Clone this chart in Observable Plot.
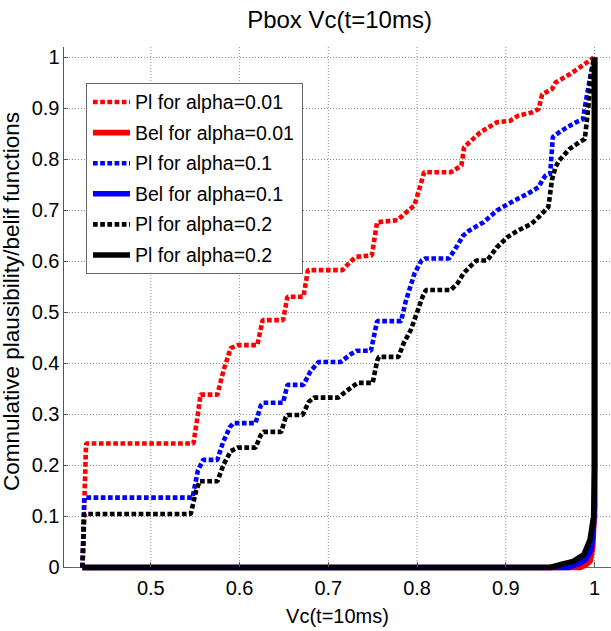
<!DOCTYPE html>
<html>
<head>
<meta charset="utf-8">
<script src="https://cdn.jsdelivr.net/npm/d3@7"></script>
<script src="https://cdn.jsdelivr.net/npm/@observablehq/plot@0.6"></script>
<style>
  body { margin: 0; background: #fff; }
  #chart svg { font-family: "Liberation Sans", Arial, sans-serif; display: block; }
</style>
</head>
<body>
<div id="chart"></div>
<script>
// ---------- data ----------
const titleText = "Pbox Vc(t=10ms)";
const xLabelText = "Vc(t=10ms)";
const yLabelText = "Comnulative plausibility/belif functions";
const xTicks = [0.5, 0.6, 0.7, 0.8, 0.9, 1];
const xTickLabels = ["0.5", "0.6", "0.7", "0.8", "0.9", "1"];
const yTicks = [0, 0.1, 0.2, 0.3, 0.4, 0.5, 0.6, 0.7, 0.8, 0.9, 1];
const yTickLabels = ["0", "0.1", "0.2", "0.3", "0.4", "0.5", "0.6", "0.7", "0.8", "0.9", "1"];
const xDomain = [0.4016, 1.0191];
const yDomain = [0, 1.0196];

const legendLabels = [
  "Pl for alpha=0.01", "Bel for alpha=0.01",
  "Pl for alpha=0.1", "Bel for alpha=0.1",
  "Pl for alpha=0.2", "Pl for alpha=0.2"
];

// Plausibility (dotted) curves
const plAlpha001 = [
  [0.423,0],[0.427,0.243],[0.548,0.243],[0.553,0.300],[0.556,0.339],[0.575,0.339],
  [0.582,0.387],[0.590,0.430],[0.598,0.436],[0.620,0.436],[0.626,0.485],[0.649,0.485],
  [0.654,0.531],[0.672,0.531],[0.677,0.583],[0.716,0.583],[0.725,0.600],[0.731,0.609],
  [0.749,0.612],[0.755,0.677],[0.778,0.681],[0.790,0.700],[0.797,0.710],[0.803,0.745],
  [0.808,0.775],[0.838,0.775],[0.850,0.788],[0.853,0.824],[0.871,0.853],[0.890,0.873],
  [0.905,0.876],[0.914,0.886],[0.929,0.892],[0.937,0.899],[0.941,0.928],[0.952,0.938],
  [0.956,0.951],[0.972,0.967],[0.983,0.980],[0.999,1.0]
];
const plAlpha01 = [
  [0.423,0],[0.425,0.137],[0.547,0.137],[0.553,0.190],[0.559,0.211],[0.575,0.211],
  [0.581,0.244],[0.589,0.275],[0.593,0.283],[0.618,0.283],[0.624,0.318],[0.627,0.323],
  [0.649,0.323],[0.654,0.358],[0.672,0.358],[0.680,0.385],[0.689,0.403],[0.714,0.403],
  [0.725,0.418],[0.732,0.425],[0.748,0.425],[0.755,0.483],[0.782,0.483],[0.787,0.520],
  [0.790,0.537],[0.797,0.576],[0.805,0.602],[0.809,0.606],[0.836,0.606],[0.845,0.630],
  [0.852,0.651],[0.859,0.661],[0.875,0.677],[0.890,0.700],[0.910,0.720],[0.925,0.733],
  [0.937,0.746],[0.941,0.759],[0.945,0.769],[0.950,0.772],[0.953,0.844],[0.960,0.853],
  [0.968,0.862],[0.979,0.873],[0.987,0.879],[0.991,0.922],[0.995,0.961],[0.999,0.993]
];
const plAlpha02 = [
  [0.423,0],[0.425,0.105],[0.545,0.105],[0.551,0.150],[0.555,0.169],[0.575,0.169],
  [0.582,0.202],[0.590,0.228],[0.598,0.235],[0.618,0.235],[0.624,0.260],[0.627,0.266],
  [0.647,0.266],[0.652,0.295],[0.654,0.299],[0.671,0.299],[0.678,0.325],[0.684,0.333],
  [0.711,0.333],[0.725,0.352],[0.733,0.362],[0.750,0.362],[0.755,0.405],[0.757,0.413],
  [0.779,0.413],[0.785,0.440],[0.793,0.466],[0.800,0.500],[0.806,0.530],[0.810,0.544],
  [0.838,0.544],[0.846,0.558],[0.852,0.576],[0.859,0.589],[0.867,0.602],[0.879,0.602],
  [0.890,0.628],[0.902,0.648],[0.914,0.661],[0.929,0.674],[0.937,0.687],[0.948,0.707],
  [0.952,0.760],[0.956,0.785],[0.960,0.798],[0.972,0.821],[0.983,0.834],[0.989,0.840],
  [0.993,0.902],[0.996,0.967],[0.999,0.997]
];
// Belief (solid) curves
const belAlpha001 = [
  [0.423,0],[0.984,0],[0.990,0.005],[0.995,0.012],[0.998,0.040],[0.999,0.080],[1.0,0.10],[1.0,1.0]
];
const belAlpha01 = [
  [0.423,0],[0.970,0],[0.980,0.006],[0.990,0.015],[0.996,0.035],[0.998,0.060],[0.999,0.090],[1.0,0.12],[1.0,1.0]
];
const belAlpha02 = [
  [0.423,0],[0.950,0],[0.962,0.006],[0.976,0.012],[0.988,0.025],[0.995,0.055],[0.999,0.10],[1.0,0.2],[1.0,1.0]
];

const seriesColors = ["#ff0000", "#ff0000", "#0000ff", "#0000ff", "#000000", "#000000"];
const seriesDashed = [true, false, true, false, true, false];
const seriesData = [plAlpha001, belAlpha001, plAlpha01, belAlpha01, plAlpha02, belAlpha02];

// ---------- styles ----------
const DASH = "4.7,2.5";
const DASH_W = 4.6;
const SOLID_W = 5.6;
const FONT = '"Liberation Sans", Arial, sans-serif';

const lineMarks = seriesData.map((data, i) =>
  Plot.line(data.map(([x, y]) => ({x, y})), {
    x: "x", y: "y",
    stroke: seriesColors[i],
    strokeWidth: seriesDashed[i] ? DASH_W : SOLID_W,
    strokeDasharray: seriesDashed[i] ? DASH : null,
    strokeLinecap: "butt",
    strokeLinejoin: "miter",
    curve: "linear"
  })
);

const gridStyle = {stroke: "#8c8c8c", strokeOpacity: 1, strokeWidth: 1, strokeDasharray: "1,2"};

const chart = Plot.plot({
  width: 611,
  height: 631,
  marginLeft: 63,
  marginRight: 0,
  marginTop: 47,
  marginBottom: 64,
  style: {fontFamily: FONT, fontSize: "20px", background: "#fff", color: "#000", overflow: "visible"},
  x: {domain: xDomain},
  y: {domain: yDomain},
  marks: [
    Plot.gridX(xTicks, gridStyle),
    Plot.gridY(yTicks.filter(d => d > 0), gridStyle),
    Plot.axisX(xTicks, {tickSize: 0, tickPadding: 13, label: null, fontSize: 20,
      tickFormat: (d) => xTickLabels[xTicks.indexOf(d)]}),
    Plot.axisY(yTicks, {tickSize: 0, tickPadding: 4, label: null, fontSize: 20,
      tickFormat: (d) => yTickLabels[yTicks.indexOf(d)]}),
    Plot.ruleY([yDomain[0]], {stroke: "#666", strokeWidth: 1}),
    Plot.ruleX([xDomain[0]], {stroke: "#555", strokeWidth: 1}),
    ...lineMarks,
    Plot.text([titleText], {frameAnchor: "top", textAnchor: "middle", lineAnchor: "bottom", dy: -20, dx: 2, fontSize: 24}),
    Plot.text([xLabelText], {frameAnchor: "bottom", textAnchor: "middle", lineAnchor: "bottom", dy: 55, fontSize: 20}),
    Plot.text([yLabelText], {frameAnchor: "left", textAnchor: "middle", lineAnchor: "middle", rotate: -90, dx: -51.5, dy: -6, fontSize: 22.5})
  ]
});

document.getElementById("chart").appendChild(chart);

// ---------- inward tick marks & legend (layout) ----------
const svg = d3.select(chart);
const sx = chart.scale("x"), sy = chart.scale("y");
const x0 = sx.apply(xDomain[0]), y0 = sy.apply(yDomain[0]);
const ticksG = svg.append("g").attr("stroke", "#555").attr("stroke-width", 1);
yTicks.forEach(t => {
  const yy = Math.round(sy.apply(t)) + 0.5;
  ticksG.append("line").attr("x1", x0).attr("x2", x0 + 5).attr("y1", yy).attr("y2", yy);
});
xTicks.forEach(t => {
  const xx = Math.round(sx.apply(t)) + 0.5;
  ticksG.append("line").attr("x1", xx).attr("x2", xx).attr("y1", y0).attr("y2", y0 - 5);
});

const lg = svg.append("g").attr("class", "legend");
const LX = 86, LY = 83, LW = 216, LH = 190;
lg.append("rect").attr("x", LX + 0.5).attr("y", LY + 0.5).attr("width", LW).attr("height", LH)
  .attr("fill", "#fff").attr("stroke", "#666").attr("stroke-width", 1);
const rowY0 = 102, rowStep = 30.6;
legendLabels.forEach((lab, i) => {
  const yy = rowY0 + i * rowStep;
  lg.append("line")
    .attr("x1", 93).attr("x2", 130).attr("y1", yy).attr("y2", yy)
    .attr("stroke", seriesColors[i])
    .attr("stroke-width", seriesDashed[i] ? DASH_W : SOLID_W)
    .attr("stroke-dasharray", seriesDashed[i] ? DASH : null);
  lg.append("text")
    .attr("x", 135).attr("y", yy).attr("dy", "0.36em")
    .attr("text-anchor", "start")
    .attr("font-size", 19.5).attr("fill", "#000")
    .text(lab);
});
</script>
</body>
</html>
